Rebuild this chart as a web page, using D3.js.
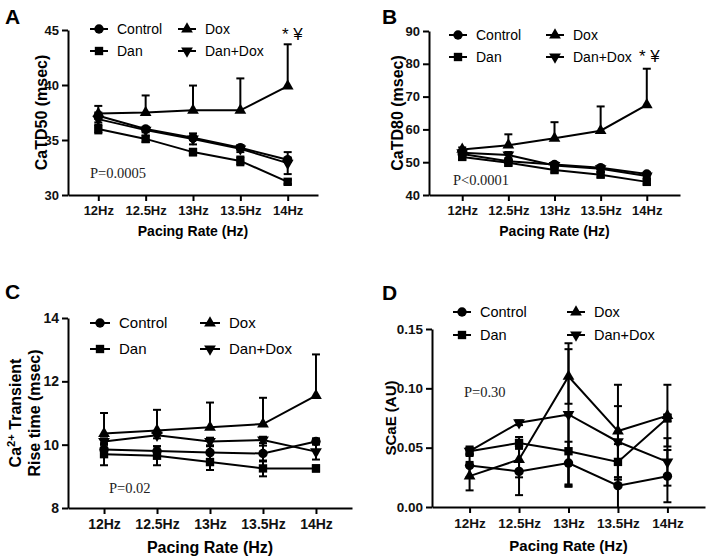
<!DOCTYPE html>
<html>
<head>
<meta charset="utf-8">
<script src="https://cdn.jsdelivr.net/npm/d3@7"></script>
<style>
  body { margin: 0; background: #fff; }
  svg { display: block; }
  text { font-family: "Liberation Sans", Arial, sans-serif; }
</style>
</head>
<body>
<svg id="svg" width="711" height="556"></svg>
<script>
// categories
const rates = ["12Hz", "12.5Hz", "13Hz", "13.5Hz", "14Hz"];
const groups = ["Control", "Dan", "Dox", "Dan+Dox"];

// Panel A - CaTD50 (msec)
const td50Control = [37.2, 36.0, 35.2, 34.3, 33.2];
const td50Dan = [36.0, 35.1, 33.9, 33.1, 31.2];
const td50Dox = [37.4, 37.5, 37.7, 37.7, 39.9];
const td50DanDox = [36.9, 35.9, 35.1, 34.2, 32.9];
const td50ControlSem = [0.3, 0.2, 0.2, 0.2, 0.2];
const td50DanSem = [0.4, 0.3, 0.3, 0.4, 0.2];
const td50DoxSem = [0.7, 1.55, 2.25, 2.9, 3.8];
const td50DanDoxSem = [0.3, 0.2, 0.5, 0.3, 1.0];

// Panel B - CaTD80 (msec)
const td80Control = [52.5, 50.3, 49.3, 48.3, 46.4];
const td80Dan = [51.6, 49.8, 47.6, 46.2, 44.0];
const td80Dox = [53.9, 55.2, 57.3, 59.6, 67.5];
const td80DanDox = [52.9, 52.2, 49.0, 48.0, 45.8];
const td80ControlSem = [0.8, 0.6, 0.6, 0.6, 0.5];
const td80DanSem = [0.8, 0.8, 0.7, 0.8, 0.7];
const td80DoxSem = [0.6, 3.3, 4.9, 7.4, 11.0];
const td80DanDoxSem = [0.8, 0.9, 0.8, 1.0, 0.6];

// Panel C - rise time (msec)
const riseControl = [9.85, 9.8, 9.75, 9.72, 10.1];
const riseDan = [9.7, 9.65, 9.45, 9.25, 9.25];
const riseDox = [10.35, 10.45, 10.55, 10.65, 11.55];
const riseDanDox = [10.1, 10.3, 10.1, 10.15, 9.78];
const riseControlSem = [0.15, 0.15, 0.2, 0.25, 0.1];
const riseDanSem = [0.35, 0.3, 0.25, 0.25, 0.1];
const riseDoxSem = [0.65, 0.65, 0.78, 0.83, 1.3];
const riseDanDoxSem = [0.1, 0.1, 0.12, 0.1, 0.25];

// Panel D - SCaE (AU)
const scaeControl = [0.035, 0.030, 0.037, 0.018, 0.026];
const scaeDan = [0.047, 0.054, 0.047, 0.038, 0.075];
const scaeDox = [0.026, 0.040, 0.110, 0.064, 0.077];
const scaeDanDox = [0.047, 0.071, 0.078, 0.055, 0.038];
const scaeControlSem = [0.010, 0.020, 0.018, 0.018, 0.022];
const scaeDanSem = [0.004, 0.005, 0.030, 0.015, 0.003];
const scaeDoxSem = [0.012, 0.015, 0.023, 0.039, 0.026];
const scaeDanDoxSem = [0.003, 0.002, 0.060, 0.030, 0.020];

const svg = d3.select("#svg");

// marker shapes per group
const shapes = {
  "Control": { type: d3.symbolCircle, size: 70, rot: 0 },
  "Dan": { type: d3.symbolSquare, size: 70, rot: 0 },
  "Dox": { type: d3.symbolTriangle, size: 60, rot: 0 },
  "Dan+Dox": { type: d3.symbolTriangle, size: 60, rot: 180 }
};

function marker(g, name, x, y) {
  const s = shapes[name];
  g.append("path")
    .attr("d", d3.symbol().type(s.type).size(s.size)())
    .attr("transform", `translate(${x},${y}) rotate(${s.rot})`)
    .attr("fill", "#000");
}

function drawPanel(p) {
  const x = d3.scalePoint().domain(rates).range([p.left, p.right]).padding(p.pad);
  const y = d3.scaleLinear().domain(p.domain).range([p.bottom, p.top]);
  const g = svg.append("g");

  // axes
  const xa = g.append("g").attr("transform", `translate(0,${p.bottom})`)
    .call(d3.axisBottom(x).tickSize(6).tickSizeOuter(0).tickPadding(5));
  const ya = g.append("g").attr("transform", `translate(${p.left},0)`)
    .call(d3.axisLeft(y).tickValues(p.ticks).tickFormat(p.fmt).tickSize(6).tickSizeOuter(0).tickPadding(3));
  [xa, ya].forEach(a => {
    a.select(".domain").attr("stroke-width", 2);
    a.selectAll(".tick line").attr("stroke-width", 2);
    a.selectAll(".tick text").attr("font-size", p.tickFont).attr("font-weight", "bold")
      .attr("fill", "#111");
  });

  // axis titles
  g.append("text").attr("x", (p.left + p.right) / 2).attr("y", p.xTitleY)
    .attr("text-anchor", "middle").attr("font-size", p.titleFont).attr("font-weight", "bold")
    .text("Pacing Rate (Hz)");
  p.yTitle.forEach((t, i) => {
    const tx = g.append("text")
      .attr("transform", `translate(${p.yTitleX[i]},${(p.top + p.bottom) / 2}) rotate(-90)`)
      .attr("text-anchor", "middle").attr("font-size", p.yTitleFont).attr("font-weight", "bold");
    if (t === "Ca2+ Transient") {
      tx.append("tspan").text("Ca");
      tx.append("tspan").attr("dy", -6).attr("font-size", p.yTitleFont * 0.7).text("2+");
      tx.append("tspan").attr("dy", 6).text(" Transient");
    } else {
      tx.text(t);
    }
  });

  // panel letter
  g.append("text").attr("x", p.letterX).attr("y", p.letterY)
    .attr("font-size", 21).attr("font-weight", "bold").text(p.letter);

  // series
  const line = d3.line().x((d, i) => x(rates[i])).y(d => y(d));
  p.series.forEach(s => {
    // error bars
    s.values.forEach((v, i) => {
      const cx = x(rates[i]);
      const hi = y(v + s.sem[i]);
      const lo = s.dir === "up" ? y(v) : y(Math.max(p.domain[0], v - s.sem[i]));
      g.append("line").attr("x1", cx).attr("x2", cx).attr("y1", hi).attr("y2", lo)
        .attr("stroke", "#000").attr("stroke-width", 2);
      g.append("line").attr("x1", cx - 4).attr("x2", cx + 4).attr("y1", hi).attr("y2", hi)
        .attr("stroke", "#000").attr("stroke-width", 2);
      if (s.dir !== "up" && v - s.sem[i] > p.domain[0]) {
        g.append("line").attr("x1", cx - 4).attr("x2", cx + 4).attr("y1", lo).attr("y2", lo)
          .attr("stroke", "#000").attr("stroke-width", 2);
      }
    });
    g.append("path").datum(s.values).attr("d", line)
      .attr("fill", "none").attr("stroke", "#000").attr("stroke-width", 2);
    s.values.forEach((v, i) => marker(g, s.name, x(rates[i]), y(v)));
  });

  // legend
  const order = [["Control", 0, 0], ["Dox", 1, 0], ["Dan", 0, 1], ["Dan+Dox", 1, 1]];
  order.forEach(([name, col, row]) => {
    const lx = p.legX[col], ly = p.legY[row];
    g.append("line").attr("x1", lx).attr("x2", lx + p.legLine).attr("y1", ly).attr("y2", ly)
      .attr("stroke", "#000").attr("stroke-width", 2);
    marker(g, name, lx + p.legLine / 2, ly);
    g.append("text").attr("x", lx + p.legLine + 9).attr("y", ly)
      .attr("dy", "0.35em").attr("font-size", p.legFont).text(name);
  });

  // p value
  g.append("text").attr("x", p.pX).attr("y", p.pY)
    .style("font-family", "'Liberation Serif', 'Times New Roman', serif")
    .attr("font-size", 14.5).attr("fill", "#222").text(p.pText);

  if (p.sig) {
    g.append("text").attr("x", p.sig[0]).attr("y", p.sig[1])
      .attr("font-size", 17).text("* ¥");
  }
}

function seriesOf(vals, sems, doxUp) {
  return groups.map((name, k) => ({
    name: name, values: vals[k], sem: sems[k], dir: (name === "Dox" && doxUp) ? "up" : "both"
  }));
}

drawPanel({
  letter: "A", letterX: 5, letterY: 24,
  left: 68, right: 318, pad: 0.64, top: 30, bottom: 195,
  domain: [30, 45], ticks: [30, 35, 40, 45], fmt: d3.format("d"),
  tickFont: 13, titleFont: 14, yTitleFont: 16, xTitleY: 236,
  yTitle: ["CaTD50 (msec)"], yTitleX: [47],
  legX: [90, 178], legY: [29, 51], legLine: 18, legFont: 14,
  pX: 90, pY: 178, pText: "P=0.0005", sig: [282, 40],
  series: seriesOf([td50Control, td50Dan, td50Dox, td50DanDox],
    [td50ControlSem, td50DanSem, td50DoxSem, td50DanDoxSem], true)
});

drawPanel({
  letter: "B", letterX: 382, letterY: 24,
  left: 429, right: 680, pad: 0.72, top: 31, bottom: 195,
  domain: [40, 90], ticks: [40, 50, 60, 70, 80, 90], fmt: d3.format("d"),
  tickFont: 13, titleFont: 14, yTitleFont: 16, xTitleY: 236,
  yTitle: ["CaTD80 (msec)"], yTitleX: [403],
  legX: [449, 546], legY: [35, 57], legLine: 18, legFont: 14,
  pX: 453, pY: 185, pText: "P<0.0001", sig: [639, 62],
  series: seriesOf([td80Control, td80Dan, td80Dox, td80DanDox],
    [td80ControlSem, td80DanSem, td80DoxSem, td80DanDoxSem], true)
});

drawPanel({
  letter: "C", letterX: 5, letterY: 299,
  left: 68, right: 352, pad: 0.68, top: 318, bottom: 508,
  domain: [8, 14], ticks: [8, 10, 12, 14], fmt: d3.format("d"),
  tickFont: 14, titleFont: 16, yTitleFont: 16, xTitleY: 553,
  yTitle: ["Ca2+ Transient", "Rise time (msec)"], yTitleX: [21, 40],
  legX: [90, 200], legY: [323, 349], legLine: 20, legFont: 15,
  pX: 109, pY: 493, pText: "P=0.02", sig: null,
  series: seriesOf([riseControl, riseDan, riseDox, riseDanDox],
    [riseControlSem, riseDanSem, riseDoxSem, riseDanDoxSem], true)
});

drawPanel({
  letter: "D", letterX: 382, letterY: 300,
  left: 432, right: 705, pad: 0.76, top: 329, bottom: 507,
  domain: [0, 0.15], ticks: [0, 0.05, 0.10, 0.15], fmt: d3.format(".2f"),
  tickFont: 13.5, titleFont: 15, yTitleFont: 15, xTitleY: 551,
  yTitle: ["SCaE (AU)"], yTitleX: [396],
  legX: [453, 567], legY: [312, 335], legLine: 18, legFont: 14.5,
  pX: 464, pY: 397, pText: "P=0.30", sig: null,
  series: seriesOf([scaeControl, scaeDan, scaeDox, scaeDanDox],
    [scaeControlSem, scaeDanSem, scaeDoxSem, scaeDanDoxSem], false)
});
</script>
</body>
</html>
